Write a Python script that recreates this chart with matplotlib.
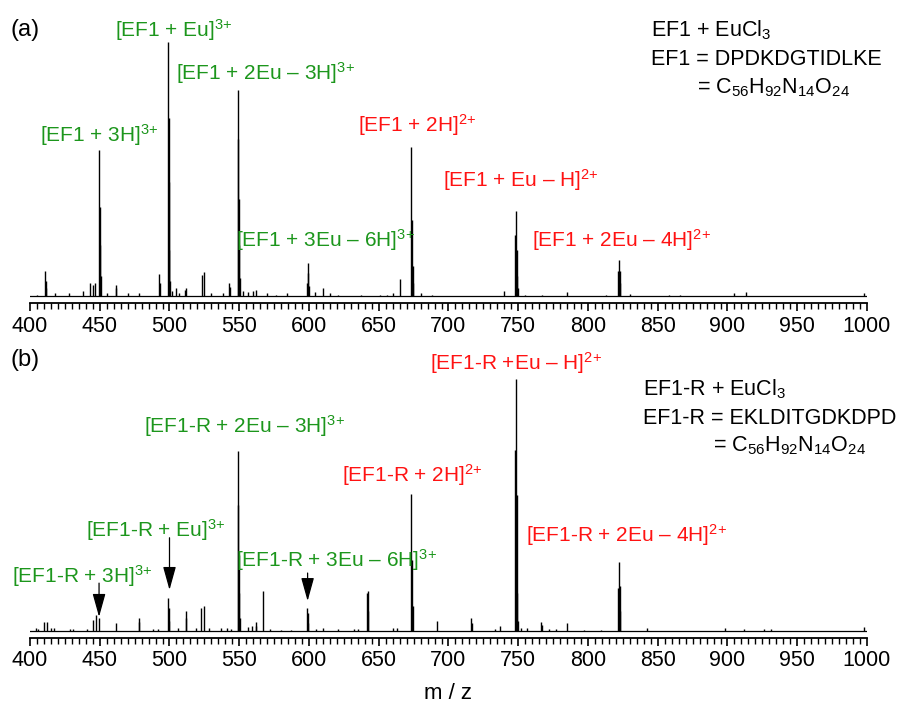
import numpy as np
import matplotlib
matplotlib.use("Agg")
import matplotlib.pyplot as plt
from matplotlib.ticker import MultipleLocator

plt.rcParams['font.family'] = ['Liberation Sans', 'DejaVu Sans']
plt.rcParams['mathtext.fontset'] = 'custom'
plt.rcParams['mathtext.rm'] = 'Liberation Sans'
plt.rcParams['mathtext.it'] = 'Liberation Sans'
plt.rcParams['mathtext.bf'] = 'Liberation Sans'

GREEN = '#1c961c'
RED = '#ff1212'
FS = 15

# panel (a): EF1 + EuCl3, stick m/z and relative intensity
mz_a = [405, 411.0, 411.3, 411.7, 418, 428, 438, 443, 445, 446.8,
        449.7, 450.0, 450.3, 450.7, 455, 461.3, 461.7, 470, 478,
        492.8, 493.2, 499.0, 499.3, 499.7, 500.0, 500.3, 502, 504.5, 507, 511, 512,
        523.0, 525.0, 530, 538, 542.7, 543.2,
        548.9, 549.2, 549.5, 549.8, 550.2, 553, 556, 560, 562, 570, 576, 584,
        598.5, 599.0, 599.3, 599.7, 604, 610, 615, 621, 637, 651, 656, 660,
        665, 673.2, 673.7, 674.2, 674.7, 680, 688,
        740, 747.7, 748.4, 748.8, 749.2, 749.6, 755, 767, 785,
        813, 821.7, 822.2, 822.7, 823.2, 830, 858, 866, 905, 913, 998]
int_a = [0.005, 0.10, 0.06, 0.03, 0.01, 0.01, 0.02, 0.05, 0.045, 0.05,
         0.575, 0.35, 0.2, 0.08, 0.01, 0.045, 0.03, 0.01, 0.01,
         0.085, 0.05, 1.0, 0.7, 0.45, 0.18, 0.06, 0.02, 0.03, 0.01, 0.025, 0.03,
         0.083, 0.095, 0.01, 0.01, 0.05, 0.035,
         0.81, 0.62, 0.38, 0.2, 0.07, 0.02, 0.015, 0.02, 0.025, 0.01, 0.005, 0.01,
         0.05, 0.13, 0.09, 0.04, 0.015, 0.03, 0.01, 0.005, 0.005, 0.005, 0.005, 0.01,
         0.065, 0.585, 0.3, 0.12, 0.05, 0.01, 0.005,
         0.02, 0.24, 0.335, 0.18, 0.08, 0.03, 0.005, 0.005, 0.015,
         0.005, 0.1, 0.14, 0.1, 0.05, 0.008, 0.005, 0.005, 0.01, 0.015, 0.01]

# panel (b): EF1-R + EuCl3
mz_b = [404, 406, 410.3, 412.2, 415, 417, 429, 431, 441,
        444.9, 447.0, 449.7, 461.5, 477.8, 478.2, 488, 492,
        499.0, 499.3, 499.7, 506, 511.7, 512.0, 519, 522.7, 525.0,
        528, 537, 541, 544,
        548.9, 549.2, 549.5, 549.8, 550.2, 556, 559, 561.7, 562.2,
        566.7, 572, 580, 587, 598.7, 599.1, 599.5, 605, 610,
        621, 632, 635, 641.7, 642.2, 642.6, 660, 663,
        673.2, 673.7, 674.2, 691.5, 716.0, 716.5, 733, 737,
        747.8, 748.4, 748.8, 749.2, 749.6, 752, 756, 766.5, 767,
        772, 777, 785, 797, 809, 821.7, 822.2, 822.7, 823.2,
        842, 898, 912, 926, 931, 998]
int_b = [0.01, 0.008, 0.035, 0.035, 0.01, 0.01, 0.008, 0.008, 0.008,
         0.045, 0.065, 0.05, 0.03, 0.05, 0.035, 0.008, 0.008,
         0.13, 0.09, 0.04, 0.01, 0.08, 0.05, 0.01, 0.09, 0.1,
         0.01, 0.01, 0.01, 0.008,
         0.714, 0.5, 0.3, 0.15, 0.05, 0.015, 0.02, 0.035, 0.02,
         0.16, 0.008, 0.005, 0.005, 0.09, 0.07, 0.03, 0.008, 0.01,
         0.008, 0.008, 0.008, 0.15, 0.16, 0.08, 0.01, 0.01,
         0.545, 0.28, 0.1, 0.04, 0.05, 0.03, 0.008, 0.02,
         0.72, 1.0, 0.54, 0.15, 0.04, 0.01, 0.01, 0.035, 0.025,
         0.008, 0.008, 0.03, 0.005, 0.005, 0.17, 0.275, 0.18, 0.08,
         0.012, 0.01, 0.008, 0.008, 0.008, 0.015]

# arrows in panel (b): m/z, start, end (relative intensity)
arrow_mz = [449.5, 500.0, 599.0]
arrow_from = [0.19, 0.37, 0.23]
arrow_to = [0.056, 0.163, 0.119]

W, H = 899, 703
fig = plt.figure(figsize=(W / 100, H / 100), dpi=100)


def px_axes(x0, x1, ybot, ytop):
    return fig.add_axes([x0 / W, 1 - ybot / H, (x1 - x0) / W, (ybot - ytop) / H])


def txt(x, y, s, color='k', size=FS):
    fig.text(x / W, 1 - y / H, s, color=color, fontsize=size, va='baseline', ha='left')


def spectrum(ax, mz, inten, base_px, spine_px, top_px):
    scale = base_px - top_px
    ax.set_ylim(-(spine_px - base_px) / scale, 1.0 + 0.015)
    ax.set_xlim(400, 1000)
    ax.plot([400, 1000], [0, 0], color='k', lw=0.9)
    ax.vlines(mz, 0, inten, color='k', lw=1.0)
    for s in ['left', 'right', 'top']:
        ax.spines[s].set_visible(False)
    ax.spines['bottom'].set_linewidth(1.3)
    ax.set_yticks([])
    ax.xaxis.set_major_locator(MultipleLocator(50))
    ax.xaxis.set_minor_locator(MultipleLocator(5))
    ax.tick_params(axis='x', which='major', direction='out', length=6, width=1.2,
                   labelsize=FS + 0.5, pad=3)
    ax.tick_params(axis='x', which='minor', direction='out', length=4, width=1.0)


# axes spans 400 -> 1000 on pixels 30 -> 867
ax_a = px_axes(30, 867, 303, 296 - 254 * 1.015)
spectrum(ax_a, mz_a, int_a, 296, 303, 42)

ax_b = px_axes(30, 867, 638, 631 - 252 * 1.015)
spectrum(ax_b, mz_b, int_b, 631, 638, 379)
ax_b.set_xlabel('m / z', fontsize=FS + 1, labelpad=8)

for m, y0, y1 in zip(arrow_mz, arrow_from, arrow_to):
    ax_b.annotate('', xy=(m, y1), xytext=(m, y0),
                  arrowprops=dict(arrowstyle='-|>,head_length=0.9,head_width=0.25',
                                  color='k', lw=0.9, mutation_scale=16,
                                  shrinkA=0, shrinkB=0))

S3 = '$^{3{+}}$'
S2 = '$^{2{+}}$'

# panel (a) labels
txt(10, 36, '(a)', size=17)
txt(115, 37, '[EF1 + Eu]' + S3, GREEN)
txt(176, 80, '[EF1 + 2Eu – 3H]' + S3, GREEN)
txt(40, 142, '[EF1 + 3H]' + S3, GREEN)
txt(236, 247, '[EF1 + 3Eu – 6H]' + S3, GREEN)
txt(358, 132, '[EF1 + 2H]' + S2, RED)
txt(443, 187, '[EF1 + Eu – H]' + S2, RED)
txt(532, 247, '[EF1 + 2Eu – 4H]' + S2, RED)
txt(651, 36, 'EF1 + EuCl$_3$', size=FS + 0.5)
txt(651, 65, 'EF1 = DPDKDGTIDLKE', size=FS + 0.5)
txt(697, 93, '= C$_{56}$H$_{92}$N$_{14}$O$_{24}$', size=FS + 0.5)

# panel (b) labels
txt(10, 366, '(b)', size=17)
txt(430, 370, '[EF1-R +Eu – H]' + S2, RED)
txt(643, 395, 'EF1-R + EuCl$_3$', size=FS + 0.5)
txt(643, 424, 'EF1-R = EKLDITGDKDPD', size=FS + 0.5)
txt(713, 451, '= C$_{56}$H$_{92}$N$_{14}$O$_{24}$', size=FS + 0.5)
txt(144, 433, '[EF1-R + 2Eu – 3H]' + S3, GREEN)
txt(342, 482, '[EF1-R + 2H]' + S2, RED)
txt(86, 537, '[EF1-R + Eu]' + S3, GREEN)
txt(12, 583, '[EF1-R + 3H]' + S3, GREEN)
txt(236, 567, '[EF1-R + 3Eu – 6H]' + S3, GREEN)
txt(526, 542, '[EF1-R + 2Eu – 4H]' + S2, RED)

fig.savefig('out.png', dpi=100)
